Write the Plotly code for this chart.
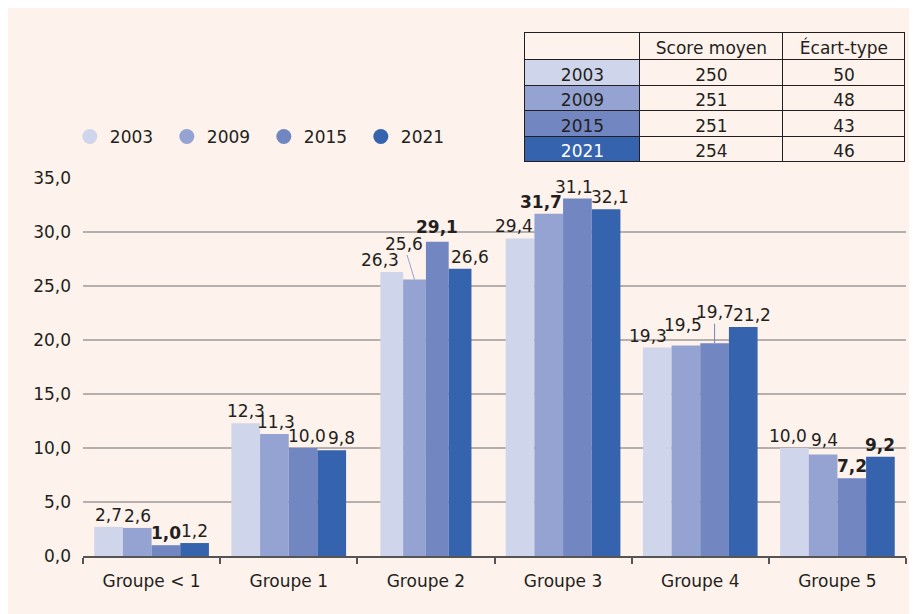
import plotly.graph_objects as go

# ---------------- data ----------------
groups = ["Groupe < 1", "Groupe 1", "Groupe 2", "Groupe 3", "Groupe 4", "Groupe 5"]
years = ["2003", "2009", "2015", "2021"]
values_2003 = [2.7, 12.3, 26.3, 29.4, 19.3, 10.0]
values_2009 = [2.6, 11.3, 25.6, 31.7, 19.5, 9.4]
values_2015 = [1.0, 10.0, 29.1, 33.1, 19.7, 7.2]
values_2021 = [1.2, 9.8, 26.6, 32.1, 21.2, 9.2]
series = [values_2003, values_2009, values_2015, values_2021]
# printed label that differs from the drawn bar in the original
label_overrides = {("2015", "Groupe 3"): "31,1"}
bold_labels = {("2015", "Groupe < 1"), ("2015", "Groupe 2"), ("2009", "Groupe 3"),
               ("2015", "Groupe 5"), ("2021", "Groupe 5")}

table_years = ["2003", "2009", "2015", "2021"]
table_scores = ["250", "251", "251", "254"]
table_sd = ["50", "48", "43", "46"]
table_header = ["", "Score moyen", "Écart-type"]

y_ticks = [0, 5, 10, 15, 20, 25, 30, 35]

# ---------------- style ----------------
colors = ["#CFD5EA", "#94A3D2", "#7286C2", "#3563AE"]
bg = "#FDF2EC"
ink = "#231F20"
grid = "#B5B0AE"
FONT = "DejaVu Sans"
LBL = 17

bar_w = [0.209, 0.209, 0.166, 0.209, 0.209, 0.209]
# label nudges (px): (dx, dy) ; leader: (ax, ay)
nudge = {
    ("2009", "Groupe 1"): (2, 0), ("2015", "Groupe 1"): (4, 0), ("2021", "Groupe 1"): (10, 0),
    ("2003", "Groupe 2"): (-12, 0), ("2015", "Groupe 2"): (0, 3), ("2021", "Groupe 2"): (10, 0),
    ("2003", "Groupe 3"): (-6, 0), ("2009", "Groupe 3"): (-8, 0), ("2015", "Groupe 3"): (-3, 0),
    ("2021", "Groupe 3"): (4, 0),
    ("2003", "Groupe 4"): (-9, 0), ("2009", "Groupe 4"): (-3, 8), ("2021", "Groupe 4"): (9, 0),
    ("2003", "Groupe 5"): (-6, 0), ("2009", "Groupe 5"): (1, 2),
}
leaders = {("2009", "Groupe 2"): (-11, -36), ("2015", "Groupe 4"): (0, -31)}

fig = go.Figure()
annotations = []
for k, (yr, vals, col) in enumerate(zip(years, series, colors)):
    offs = [-2 * w + k * w for w in bar_w]
    fig.add_trace(go.Bar(
        x=groups, y=vals, width=bar_w, offset=offs, marker=dict(color=col, line=dict(width=0)),
        showlegend=False, name=yr, hoverinfo="skip"))
    for i, (g, v) in enumerate(zip(groups, vals)):
        txt = label_overrides.get((yr, g), f"{v:.1f}".replace(".", ","))
        if (yr, g) in bold_labels:
            txt = f"<b>{txt}</b>"
        xc = i + offs[i] + bar_w[i] / 2
        if (yr, g) in leaders:
            ax, ay = leaders[(yr, g)]
            annotations.append(dict(x=xc, y=v, xref="x", yref="y", text=txt, showarrow=True,
                                    ax=ax, ay=ay, arrowhead=0, arrowwidth=1, arrowcolor=col,
                                    standoff=0, font=dict(size=LBL, color=ink, family=FONT)))
        else:
            dx, dy = nudge.get((yr, g), (0, 0))
            annotations.append(dict(x=xc, y=v, xref="x", yref="y", text=txt, showarrow=False,
                                    yanchor="bottom", xanchor="center", xshift=dx, yshift=dy,
                                    font=dict(size=LBL, color=ink, family=FONT)))

# legend entries as circles
for yr, col in zip(years, colors):
    fig.add_trace(go.Scatter(x=[None], y=[None], mode="markers", name=yr,
                             marker=dict(symbol="circle", size=15, color=col)))

# table
fig.add_trace(go.Table(
    domain=dict(x=[0.537, 0.9988], y=[0.70, 0.9544]),
    columnwidth=[115, 143, 122],
    header=dict(values=table_header, fill_color=bg, line=dict(color=ink, width=1),
                align="center", height=27, font=dict(size=17, color=ink, family=FONT)),
    cells=dict(values=[table_years, table_scores, table_sd],
               fill_color=[colors, [bg] * 4, [bg] * 4],
               line=dict(color=ink, width=1), align="center", height=25.5,
               font=dict(size=17, color=[[ink, ink, ink, "white"], [ink] * 4, [ink] * 4],
                         family=FONT)),
))

fig.update_layout(
    width=917, height=614,
    margin=dict(l=75, r=19, t=0, b=66, autoexpand=False),
    paper_bgcolor=bg, plot_bgcolor=bg,
    barmode="overlay",
    separators=", ",
    font=dict(family=FONT, color=ink, size=17),
    showlegend=True,
    legend=dict(orientation="h", x=-0.016, xanchor="left", y=0.7646, yanchor="middle",
                font=dict(size=17, color=ink, family=FONT), entrywidth=52,
                bgcolor="rgba(0,0,0,0)", itemclick=False),
    annotations=annotations,
    xaxis=dict(type="category", tickson="boundaries", ticks="outside", ticklen=6,
               tickcolor="#555555", tickwidth=1.5, showline=True, linecolor="#555555",
               linewidth=1.5, showgrid=False, tickfont=dict(size=17, color=ink),
               ticklabelstandoff=9, range=[-0.5, 5.5]),
    yaxis=dict(domain=[0, 0.6898], range=[0, 35], tickvals=y_ticks, tickformat=".1f",
               showgrid=True, gridcolor=grid, gridwidth=1.5, zeroline=False,
               showline=False, ticks="", ticklabelstandoff=11,
               tickfont=dict(size=17, color=ink)),
)

fig.write_html("out.html")
